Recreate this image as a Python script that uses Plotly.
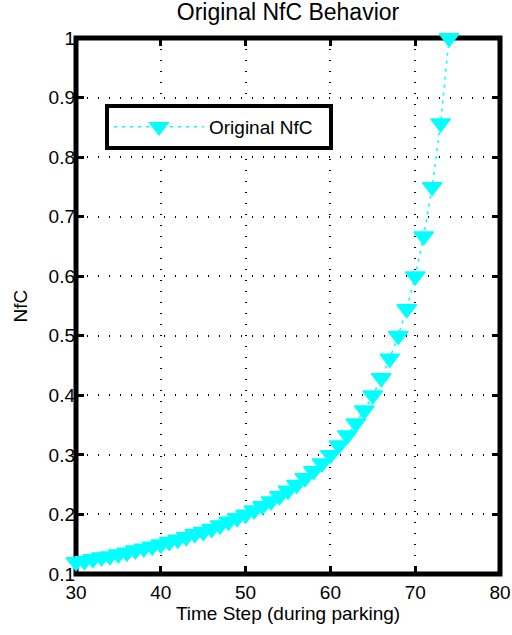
import plotly.graph_objects as go

time_step = list(range(30, 75))
nfc = [0.120, 0.122, 0.125, 0.128, 0.130, 0.133, 0.136, 0.140, 0.143, 0.146,
       0.150, 0.154, 0.158, 0.162, 0.167, 0.171, 0.176, 0.182, 0.188, 0.194,
       0.200, 0.207, 0.214, 0.222, 0.231, 0.240, 0.250, 0.261, 0.273, 0.286,
       0.300, 0.316, 0.333, 0.353, 0.375, 0.400, 0.429, 0.462, 0.500, 0.545,
       0.600, 0.667, 0.750, 0.857, 1.000]
x_ticks = [30, 40, 50, 60, 70, 80]
y_ticks = [0.1, 0.2, 0.3, 0.4, 0.5, 0.6, 0.7, 0.8, 0.9, 1.0]
y_tick_text = ["0.1", "0.2", "0.3", "0.4", "0.5", "0.6", "0.7", "0.8", "0.9", "1"]

FONT = "Liberation Sans, Arial, Helvetica, sans-serif"
CYAN = "#00FFFF"

fig = go.Figure()
fig.add_trace(go.Scatter(
    x=time_step, y=nfc, mode="lines+markers", name="Original NfC\u00a0\u00a0",
    line=dict(color=CYAN, width=1.5, dash="3px,5px"),
    marker=dict(symbol="triangle-down", size=17, color=CYAN,
                line=dict(width=1.5, color=CYAN)),
    cliponaxis=False,
))

axis_common = dict(
    showline=False, mirror="ticks", automargin=False,
    ticks="inside", ticklen=8, tickwidth=3, tickcolor="black",
    showgrid=True, gridcolor="black", gridwidth=2, griddash="1px,10px",
    zeroline=False, layer="below traces",
    tickfont=dict(family=FONT, size=19, color="black"),
    title_font=dict(family=FONT, size=19, color="black"),
)

fig.update_xaxes(range=[30, 80], tickvals=x_ticks, ticktext=[str(v) for v in x_ticks],
                 ticklabelstandoff=5,
                 title_text="Time Step (during parking)", title_standoff=2, **axis_common)
fig.update_yaxes(range=[0.1, 1.0], tickvals=y_ticks, ticktext=y_tick_text,
                 title_text="NfC", title_standoff=15, **axis_common)

fig.add_shape(type="rect", xref="paper", yref="paper", x0=0, x1=1, y0=0, y1=1,
              line=dict(color="black", width=5), fillcolor="rgba(0,0,0,0)",
              layer="below")

fig.update_layout(
    width=512, height=635,
    margin=dict(l=76, r=12, t=38, b=61),
    paper_bgcolor="white", plot_bgcolor="white",
    font=dict(family=FONT, color="black"),
    title=dict(text="Original NfC Behavior", x=0.5, xref="paper", xanchor="center",
               yref="container", y=1 - 12 / 635, yanchor="middle",
               font=dict(family=FONT, size=23, color="black")),
    showlegend=True,
    legend=dict(x=(105 - 76) / 424, y=(574 - 104) / 536, xanchor="left", yanchor="top",
                bgcolor="white", bordercolor="black", borderwidth=4,
                itemwidth=90,
                font=dict(family=FONT, size=19, color="black")),
)

fig.write_html("out.html")
